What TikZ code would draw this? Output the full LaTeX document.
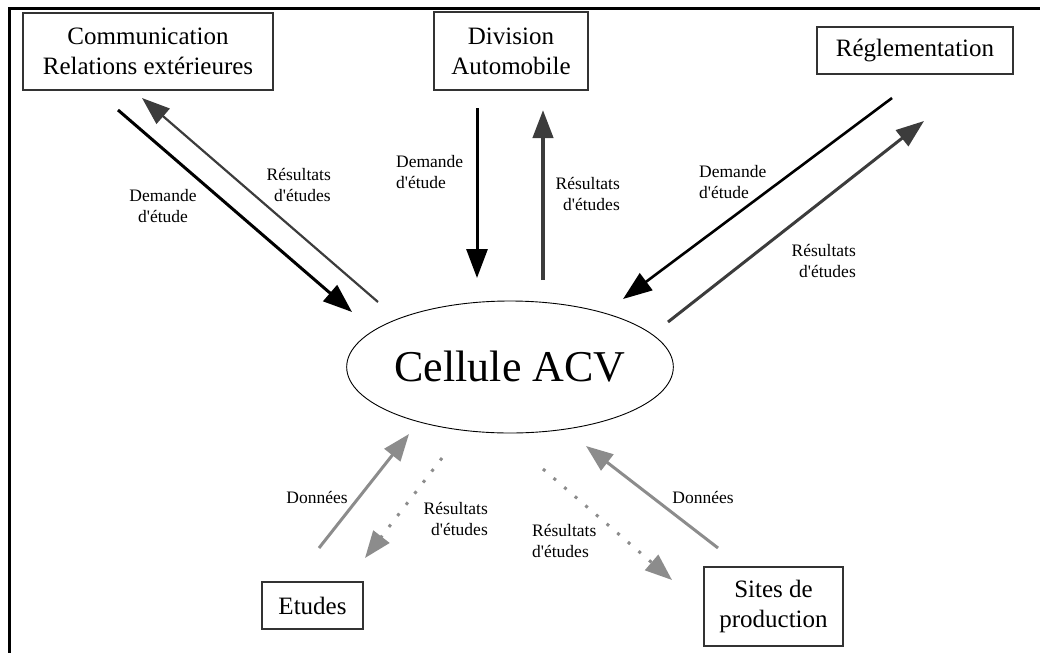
\documentclass[tikz,border=0pt]{standalone}
\usepackage{fontspec}
\setmainfont{Liberation Serif}[Ligatures=TeXOff]
\usetikzlibrary{arrows.meta,shapes.geometric}
\definecolor{darkg}{HTML}{3C3C3C}
\definecolor{lightg}{HTML}{8C8C8C}
\definecolor{boxline}{HTML}{333333}
\begin{document}
\begin{tikzpicture}[x=1pt,y=-1pt,
  box/.style={draw=boxline,line width=1.3pt,inner sep=0pt,align=center,
    font=\fontsize{25}{30}\selectfont},
  lbl/.style={font=\fontsize{17.5}{21}\selectfont,inner sep=0pt},
  blackarr/.style={line width=3pt,black,-{Triangle[length=29pt,width=21pt]}},
  darkarr/.style={line width=3pt,darkg,-{Triangle[length=28pt,width=20pt]}},
  grayarr/.style={line width=3pt,lightg,-{Triangle[length=27pt,width=20pt]}},
  dotarr/.style={line width=3pt,lightg,dash pattern=on 3pt off 11pt,
    -{Triangle[length=27pt,width=20pt]}}]
\useasboundingbox (0,0) rectangle (1040,653);
% frame
\draw[line width=3pt] (1040,8) -- (9,8) -- (9,653);
% nodes
\node[box,minimum width=250pt,minimum height=77pt] (com) at (148,51.5)
  {Communication\\Relations extérieures};
\node[box,minimum width=154pt,minimum height=78pt] (div) at (511,51)
  {Division\\Automobile};
\node[box,minimum width=196pt,minimum height=47pt] (reg) at (915,50.5)
  {Réglementation};
\node[box,minimum width=101pt,minimum height=47pt] (etu) at (312.5,605.5)
  {Etudes};
\node[box,minimum width=139pt,minimum height=79pt] (sit) at (773.5,606.5)
  {Sites de\\production};
\node[draw,ellipse,line width=0.9pt,minimum width=325pt,minimum height=132pt,
  inner sep=0pt,font=\fontsize{44}{50}\selectfont] (acv) at (510,367) {Cellule ACV};
% arrow end points
\coordinate (c1s) at (118,110); \coordinate (c1e) at (352,312);
\coordinate (c2s) at (378,302); \coordinate (c2e) at (142,98);
\coordinate (d1s) at (477,108); \coordinate (d1e) at (477,278);
\coordinate (d2s) at (543,280); \coordinate (d2e) at (543,110);
\coordinate (r1s) at (892,98);  \coordinate (r1e) at (623,299);
\coordinate (r2s) at (668,322); \coordinate (r2e) at (924,121);
\coordinate (e1s) at (319,548); \coordinate (e1e) at (409,434);
\coordinate (e2s) at (442,458); \coordinate (e2e) at (365,558);
\coordinate (s1s) at (543,469); \coordinate (s1e) at (672,580);
\coordinate (s2s) at (718,548); \coordinate (s2e) at (586,446);
% arrows
\draw[blackarr] (c1s) -- (c1e);
\draw[darkarr,line width=2.2pt] (c2s) -- (c2e);
\draw[blackarr] (d1s) -- (d1e);
\draw[darkarr,line width=4.2pt] (d2s) -- (d2e);
\draw[blackarr,line width=2.6pt] (r1s) -- (r1e);
\draw[darkarr] (r2s) -- (r2e);
\draw[grayarr] (e1s) -- (e1e);
\draw[dotarr] (e2s) -- (e2e);
\draw[dotarr] (s1s) -- (s1e);
\draw[grayarr] (s2s) -- (s2e);
% labels
\node[lbl,align=center] (lc1) at (163,206) {Demande\\d'étude};
\node[lbl,align=right,anchor=east] (lc2) at (331,185) {Résultats\\d'études};
\node[lbl,align=left,anchor=west] (ld1) at (396,172) {Demande\\d'étude};
\node[lbl,align=right,anchor=east] (ld2) at (620,194) {Résultats\\d'études};
\node[lbl,align=left,anchor=west] (lr1) at (699,182) {Demande\\d'étude};
\node[lbl,align=right,anchor=east] (lr2) at (856,261) {Résultats\\d'études};
\node[lbl] (le1) at (317,497) {Données};
\node[lbl,align=right,anchor=east] (le2) at (488,519) {Résultats\\d'études};
\node[lbl,align=left,anchor=west] (ls1) at (532,541) {Résultats\\d'études};
\node[lbl] (ls2) at (703,497) {Données};
\end{tikzpicture}
\end{document}
